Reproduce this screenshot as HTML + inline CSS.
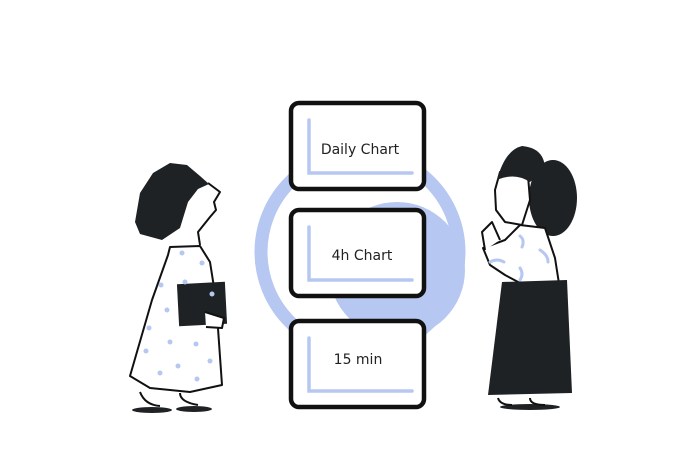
<!DOCTYPE html>
<html><head><meta charset="utf-8"><style>
html,body{margin:0;padding:0;background:#fff;}
svg{display:block}
text{font-family:"DejaVu Sans","Liberation Sans",sans-serif;font-size:14px;fill:#222}
</style></head><body>
<svg width="700" height="467" viewBox="0 0 700 467" xmlns="http://www.w3.org/2000/svg">
<circle cx="360" cy="252" r="99" fill="none" stroke="#b6c8f1" stroke-width="13"/>
<circle cx="397" cy="270" r="68" fill="#b6c8f1"/>
<g stroke="#111" stroke-width="4.5" fill="#fff">
<rect x="291" y="103" width="133" height="86" rx="8"/>
<rect x="291" y="210" width="133" height="86" rx="8"/>
<rect x="291" y="321" width="133" height="86" rx="8"/>
</g>
<g stroke="#b6c8f1" stroke-width="3.5" fill="none" stroke-linecap="round">
<path d="M309 120 V173 H412"/>
<path d="M309 227 V280 H412"/>
<path d="M309 338 V391 H412"/>
</g>
<text x="360" y="154" text-anchor="middle">Daily Chart</text>
<text x="362" y="260" text-anchor="middle">4h Chart</text>
<text x="358" y="364" text-anchor="middle">15 min</text>
<!-- left woman -->
<g stroke="#111" stroke-width="2" stroke-linejoin="round">
<path d="M170 247 L200 246 L210 262 L216 300 L222 385 L190 392 L150 388 L130 376 L152 300 L168 255 Z" fill="#fff"/>
<path d="M200 245 L198 232 L210 217 L216 210 L214 202 L220 192 L208 183" fill="#fff"/>
<path d="M135 222 L140 193 L153 173 L170 163 L187 165 L200 176 L209 184 L198 189 L188 202 L180 228 L162 240 L140 234 Z" fill="#1f2225" stroke="none"/>
<rect x="178" y="283" width="48" height="42" fill="#1f2225" stroke="none" transform="rotate(-3 202 304)"/>
<path d="M205 312 L224 318 L222 328 L206 327" fill="#fff"/>
<path d="M140 392 Q145 405 160 406 M180 393 Q180 402 198 405" fill="none"/>
</g>
<ellipse cx="152" cy="410" rx="20" ry="3" fill="#1f2225"/>
<ellipse cx="194" cy="409" rx="18" ry="3" fill="#1f2225"/>
<g fill="#b6c8f1">
<circle cx="182" cy="253" r="2.5"/><circle cx="202" cy="263" r="2.5"/><circle cx="161" cy="285" r="2.5"/>
<circle cx="185" cy="282" r="2.5"/><circle cx="212" cy="294" r="2.5"/><circle cx="167" cy="310" r="2.5"/>
<circle cx="149" cy="328" r="2.5"/><circle cx="170" cy="342" r="2.5"/><circle cx="196" cy="344" r="2.5"/>
<circle cx="146" cy="351" r="2.5"/><circle cx="210" cy="361" r="2.5"/><circle cx="178" cy="366" r="2.5"/>
<circle cx="160" cy="373" r="2.5"/><circle cx="197" cy="379" r="2.5"/>
</g>
<!-- right woman -->
<ellipse cx="553" cy="198" rx="24" ry="38" fill="#1f2225"/>
<g stroke="#111" stroke-width="2" stroke-linejoin="round" fill="#fff">
<path d="M520 225 L545 228 L555 258 L560 290 L540 285 L520 283 L505 275 L490 265 L483 248 L505 240 Z"/>
<path d="M485 250 L482 232 L492 222 L500 240"/>
<path d="M500 172 L528 176 L530 200 L522 225 L505 222 L496 210 L495 190 Z"/>
</g>
<path d="M497 180 Q505 150 522 146 Q545 148 545 170 L530 182 Q515 172 497 180 Z" fill="#1f2225"/>
<path d="M502 282 L567 280 L572 393 L488 395 Z" fill="#1f2225"/>
<g stroke="#b6c8f1" stroke-width="3" fill="none" stroke-linecap="round">
<path d="M520 236 Q525 240 522 247"/><path d="M540 250 Q548 255 548 262"/><path d="M490 262 Q497 258 504 262"/><path d="M520 268 Q524 274 520 280"/>
</g>
<ellipse cx="530" cy="407" rx="30" ry="3" fill="#1f2225"/>
<path d="M498 398 Q500 405 512 405 M530 398 Q530 405 545 405" stroke="#111" stroke-width="2" fill="none"/>
</svg>
</body></html>
